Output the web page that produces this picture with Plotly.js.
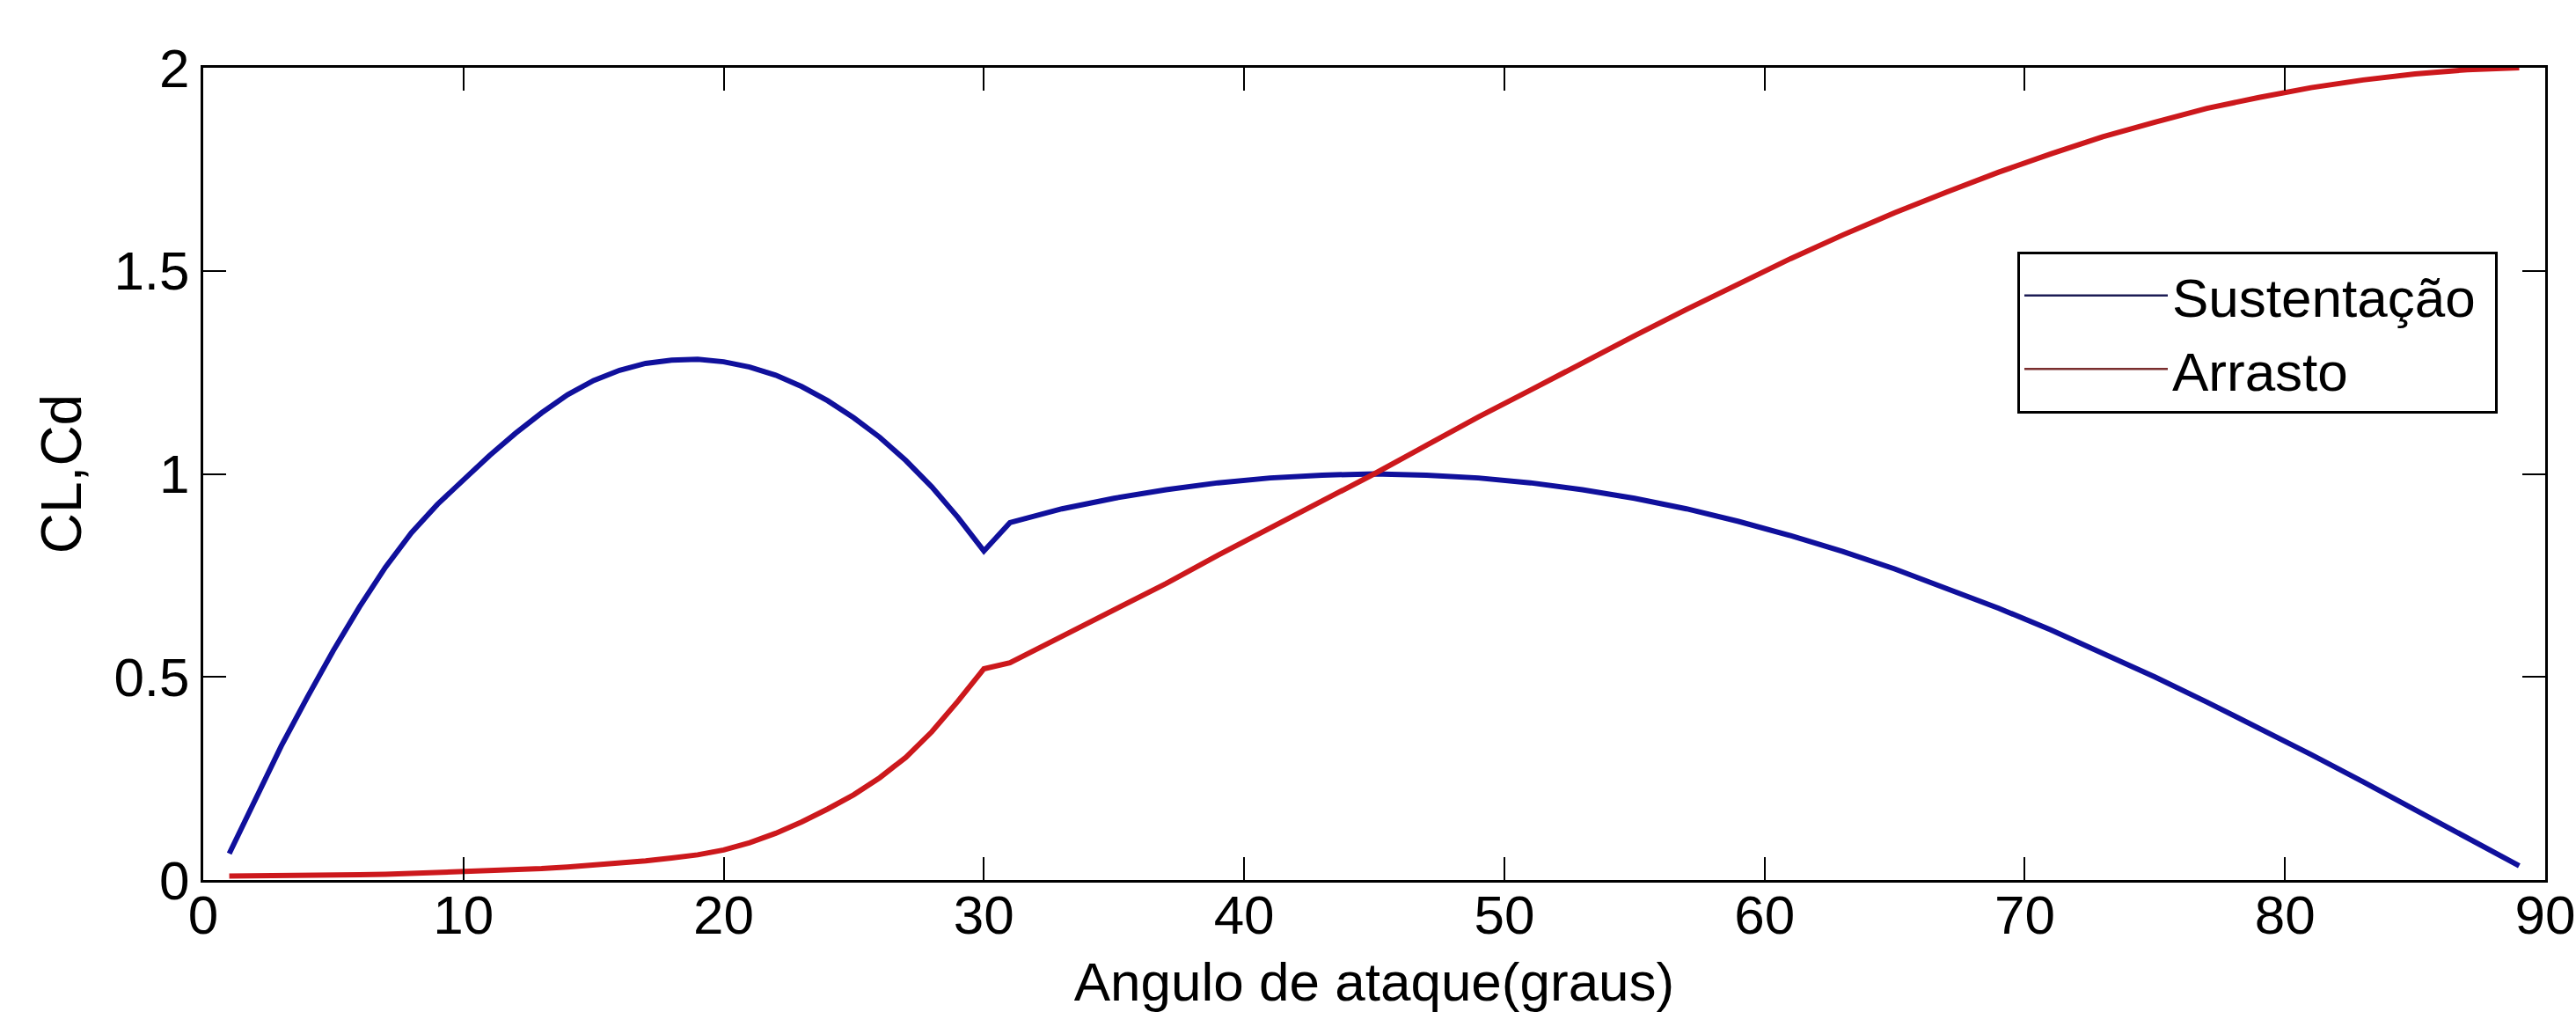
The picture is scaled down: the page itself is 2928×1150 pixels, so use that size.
<!DOCTYPE html>
<html>
<head>
<meta charset="utf-8">
<script src="https://cdn.plot.ly/plotly-3.0.1.min.js"></script>
<style>html,body{margin:0;padding:0;background:#fff;}#chart{width:2928px;height:1150px;}</style>
</head>
<body>
<div id="chart"></div>
<script>
// Angle of attack (degrees)
const angle = [1,2,3,4,5,6,7,8,9,10,11,12,13,14,15,16,17,18,19,20,21,22,23,24,25,26,27,28,29,30,
  31,33,35,37,39,41,43,45,47,49,51,53,55,57,59,61,63,65,67,69,71,73,75,77,79,81,83,85,87,89];
// Lift coefficient (Sustentação)
const lift = [0.065,0.2,0.33,0.45,0.565,0.672,0.77,0.855,0.925,0.985,1.045,1.1,1.15,1.195,1.23,1.255,1.272,1.28,1.282,1.276,1.263,1.243,1.215,1.18,1.138,1.09,1.033,0.968,0.893,0.81,
  0.88,0.914,0.94,0.961,0.978,0.99,0.997,1.0,0.997,0.99,0.978,0.961,0.94,0.914,0.883,0.848,0.809,0.766,0.719,0.669,0.616,0.559,0.5,0.438,0.375,0.309,0.242,0.174,0.105,0.035];
// Drag coefficient (Arrasto)
const drag = [0.01,0.01,0.011,0.012,0.012,0.013,0.014,0.016,0.018,0.02,0.022,0.025,0.028,0.032,0.036,0.041,0.047,0.054,0.062,0.074,0.092,0.115,0.143,0.175,0.21,0.252,0.302,0.365,0.44,0.52,
  0.535,0.6,0.665,0.73,0.8,0.866,0.933,1.0,1.07,1.14,1.206,1.274,1.34,1.405,1.467,1.53,1.588,1.643,1.694,1.743,1.788,1.83,1.866,1.9,1.927,1.951,1.97,1.985,1.995,2.0];

const seriesNames = ['Sustentação\u00a0', 'Arrasto'];
const xTicks = [0,10,20,30,40,50,60,70,80,90];
const yTicks = [0,0.5,1,1.5,2];

const FONT = 'Liberation Sans, Arial, Helvetica, sans-serif';

const traces = [
  {x: angle, y: lift, mode: 'lines', line: {color: '#10109c', width: 6}, showlegend: false, hoverinfo: 'skip'},
  {x: angle, y: drag, mode: 'lines', line: {color: '#cc181c', width: 6}, showlegend: false, hoverinfo: 'skip'},
  {x: [null], y: [null], mode: 'lines', name: seriesNames[0], line: {color: '#1c1c55', width: 2.5}},
  {x: [null], y: [null], mode: 'lines', name: seriesNames[1], line: {color: '#7a2e2e', width: 2.5}}
];

const layout = {
  width: 2928, height: 1150, autosize: false,
  margin: {l: 231, r: 35, t: 77, b: 150, pad: 0},
  paper_bgcolor: '#ffffff', plot_bgcolor: '#ffffff',
  font: {family: FONT, size: 62, color: '#000'},
  xaxis: {
    range: [0, 90], tickvals: xTicks, ticks: 'inside', ticklen: 26, tickwidth: 2, tickcolor: '#000',
    showline: true, linecolor: '#000', linewidth: 3, mirror: 'ticks', showgrid: false, zeroline: false,
    tickfont: {family: FONT, size: 62, color: '#000'},
    ticklabelstandoff: -16,
    title: {text: 'Angulo de ataque(graus)', font: {family: FONT, size: 62, color: '#000'}, standoff: 46}
  },
  yaxis: {
    range: [0, 2], tickvals: yTicks, ticks: 'inside', ticklen: 26, tickwidth: 2, tickcolor: '#000',
    showline: true, linecolor: '#000', linewidth: 3, mirror: 'ticks', showgrid: false, zeroline: false,
    tickfont: {family: FONT, size: 62, color: '#000'},
    title: {text: 'CL,Cd', font: {family: FONT, size: 64, color: '#000'}, standoff: 16}
  },
  legend: {
    x: 0.7746, y: 0.7736, xanchor: 'left', yanchor: 'top',
    bgcolor: '#ffffff', bordercolor: '#000', borderwidth: 3,
    font: {family: FONT, size: 62, color: '#000'},
    itemwidth: 163, tracegroupgap: 0
  },
  showlegend: true
};

Plotly.newPlot('chart', traces, layout, {staticPlot: true, displayModeBar: false});
</script>
</body>
</html>
